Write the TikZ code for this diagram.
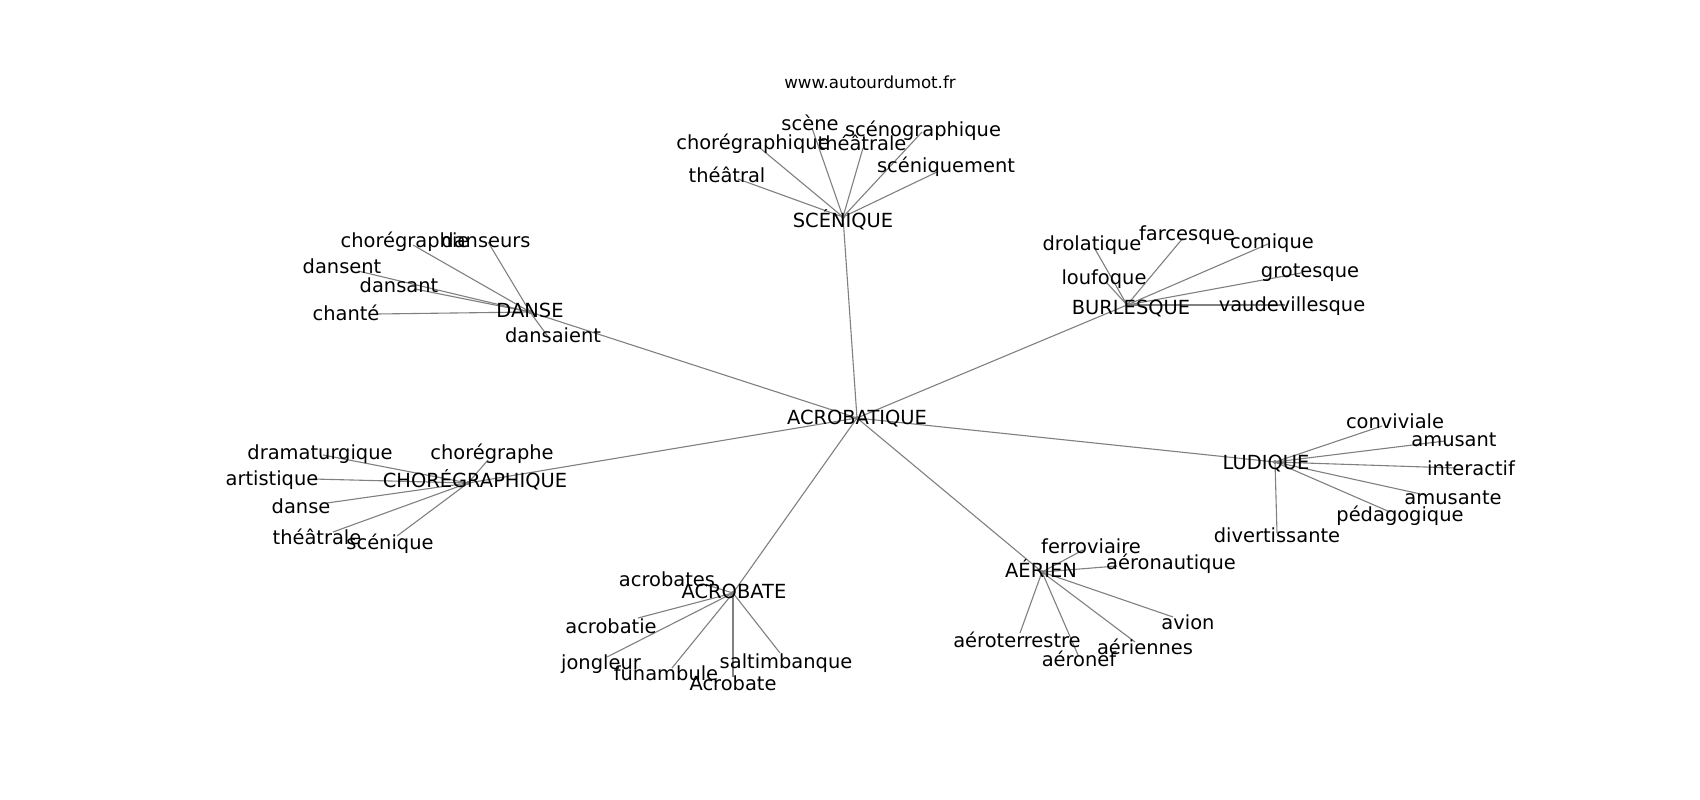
\documentclass[tikz,border=0pt]{standalone}
\usepackage{fontspec}
\setmainfont{DejaVu Sans}
\begin{document}
\begin{tikzpicture}[x=1pt,y=-1pt,
  lbl/.style={inner sep=0pt,anchor=center,yshift=-5.5pt,font=\fontsize{19.44}{23}\selectfont,text height=0.73em,text depth=0.24em},
  wm/.style={inner sep=0pt,anchor=center,font=\fontsize{16.67}{20}\selectfont},
  edge/.style={draw=gray,line width=1.1pt},
  dot/.style={circle,fill=gray,inner sep=0pt,minimum size=4pt}]
\useasboundingbox (0,0) rectangle (1700,800);
\fill[white] (0,0) rectangle (1700,800);
% node points
\foreach \n/\x/\y in {
 c/857/418, sce/843/217, dan/530/312, bur/1127/305, cho/468/483, lud/1275/462, acr/733/593, aer/1042/572,
 s1/812/128, s2/760/148, s3/863/148, s4/922/132, s5/738/179, s6/937/172,
 d1/413/245, d2/488/242, d3/358/271, d4/415/289, d5/377/314, d6/549/338,
 b1/1095/249, b2/1183/238, b3/1268/244, b4/1107/283, b5/1301/273, b6/1285/305,
 h1/323/455, h2/488/460, h3/313/479, h4/327/503, h5/333/532, h6/397/536,
 l1/1382/426, l2/1445/441, l3/1455/468, l4/1425/495, l5/1390/512, l6/1277/533,
 a1/707/585, a2/638/618, a3/607/657, a4/672/668, a5/733/677, a6/780/653,
 e1/1083/550, e2/1117/566, e3/1020/633, e4/1078/655, e5/1135/642, e6/1173/617}
 {\coordinate (\n) at (\x,\y);}
% edges
\foreach \h in {sce,dan,bur,cho,lud,acr,aer} {\draw[edge] (c) -- (\h);}
\foreach \t in {s1,s2,s3,s4,s5,s6} {\draw[edge] (sce) -- (\t);}
\foreach \t in {d1,d2,d3,d4,d5,d6} {\draw[edge] (dan) -- (\t);}
\foreach \t in {b1,b2,b3,b4,b5,b6} {\draw[edge] (bur) -- (\t);}
\foreach \t in {h1,h2,h3,h4,h5,h6} {\draw[edge] (cho) -- (\t);}
\foreach \t in {l1,l2,l3,l4,l5,l6} {\draw[edge] (lud) -- (\t);}
\foreach \t in {a1,a2,a3,a4,a5,a6} {\draw[edge] (acr) -- (\t);}
\foreach \t in {e1,e2,e3,e4,e5,e6} {\draw[edge] (aer) -- (\t);}
\foreach \n in {c,sce,dan,bur,cho,lud,acr,aer} {\node[dot] at (\n) {};}
% labels
\node[wm] (wmk) at (870,82) {www.autourdumot.fr};
\node[lbl] (cL) at (857,417) {ACROBATIQUE};
\node[lbl] (sceL) at (843,220) {SCÉNIQUE};
\node[lbl] (danL) at (530,310) {DANSE};
\node[lbl] (burL) at (1131,307) {BURLESQUE};
\node[lbl] (choL) at (475,480) {CHORÉGRAPHIQUE};
\node[lbl] (ludL) at (1266,462) {LUDIQUE};
\node[lbl] (acrL) at (734,591) {ACROBATE};
\node[lbl] (aerL) at (1041,570) {AÉRIEN};
\node[lbl] (s1L) at (810,123) {scène};
\node[lbl] (s2L) at (753,142) {chorégraphique};
\node[lbl] (s3L) at (862,143) {théâtrale};
\node[lbl] (s4L) at (923,129) {scénographique};
\node[lbl] (s5L) at (727,175) {théâtral};
\node[lbl] (s6L) at (946,165) {scéniquement};
\node[lbl] (d1L) at (405,240) {chorégraphie};
\node[lbl] (d2L) at (486,240) {danseurs};
\node[lbl] (d3L) at (342,266) {dansent};
\node[lbl] (d4L) at (399,285) {dansant};
\node[lbl] (d5L) at (346,313) {chanté};
\node[lbl] (d6L) at (553,335) {dansaient};
\node[lbl] (b1L) at (1092,243) {drolatique};
\node[lbl] (b2L) at (1187,233) {farcesque};
\node[lbl] (b3L) at (1272,241) {comique};
\node[lbl] (b4L) at (1104,277) {loufoque};
\node[lbl] (b5L) at (1310,270) {grotesque};
\node[lbl] (b6L) at (1292,304) {vaudevillesque};
\node[lbl] (h1L) at (320,452) {dramaturgique};
\node[lbl] (h2L) at (492,452) {chorégraphe};
\node[lbl] (h3L) at (272,478) {artistique};
\node[lbl] (h4L) at (301,506) {danse};
\node[lbl] (h5L) at (317,537) {théâtrale};
\node[lbl] (h6L) at (390,542) {scénique};
\node[lbl] (l1L) at (1395,421) {conviviale};
\node[lbl] (l2L) at (1454,439) {amusant};
\node[lbl] (l3L) at (1471,468) {interactif};
\node[lbl] (l4L) at (1453,497) {amusante};
\node[lbl] (l5L) at (1400,514) {pédagogique};
\node[lbl] (l6L) at (1277,535) {divertissante};
\node[lbl] (a1L) at (667,579) {acrobates};
\node[lbl] (a2L) at (611,626) {acrobatie};
\node[lbl] (a3L) at (601,662) {jongleur};
\node[lbl] (a4L) at (666,673) {funambule};
\node[lbl] (a5L) at (733,683) {Acrobate};
\node[lbl] (a6L) at (786,661) {saltimbanque};
\node[lbl] (e1L) at (1091,546) {ferroviaire};
\node[lbl] (e2L) at (1171,562) {aéronautique};
\node[lbl] (e3L) at (1017,640) {aéroterrestre};
\node[lbl] (e4L) at (1079,659) {aéronef};
\node[lbl] (e5L) at (1145,647) {aériennes};
\node[lbl] (e6L) at (1188,622) {avion};
\end{tikzpicture}
\end{document}
